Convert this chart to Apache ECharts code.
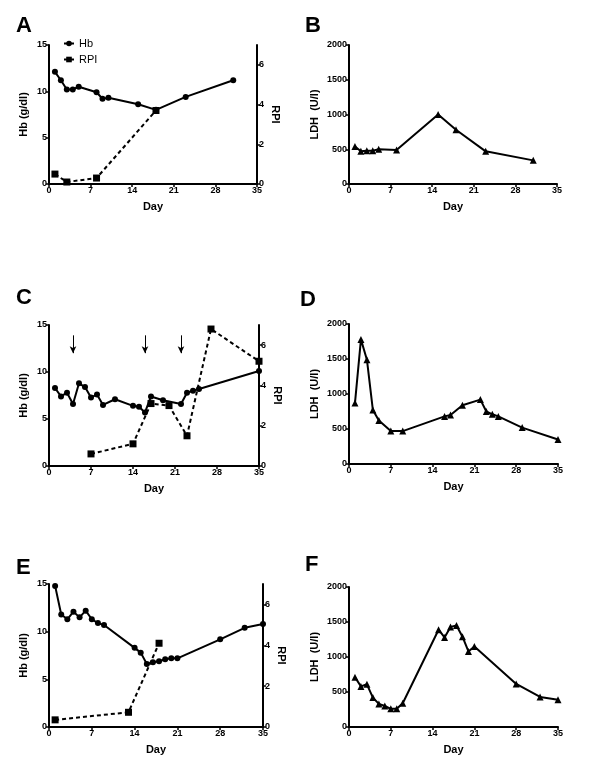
<!DOCTYPE html>
<html>
<head>
<meta charset="utf-8">
<script src="https://cdn.jsdelivr.net/npm/echarts@6/dist/echarts.min.js"></script>
<style>
html,body{margin:0;padding:0;background:#fff;}
#c{width:600px;height:774px;}
</style>
</head>
<body>
<div id="c"></div>
<script>
// ---------- data ----------
const dayTicks = [0, 7, 14, 21, 28, 35];
const hbTicks = [0, 5, 10, 15];
const rpiTicks = [0, 2, 4, 6];
const ldhTicks = [0, 500, 1000, 1500, 2000];

// Panel A
const daysA_Hb = [1, 2, 3, 4, 5, 8, 9, 10, 15, 18, 23, 31];
const hbA = [12.1, 11.2, 10.2, 10.2, 10.5, 9.9, 9.2, 9.3, 8.6, 8.0, 9.4, 11.2];
const daysA_RPI = [1, 3, 8, 18];
const rpiA = [0.5, 0.1, 0.3, 3.7];
// Panel B
const daysB = [1, 2, 3, 4, 5, 8, 15, 18, 23, 31];
const ldhB = [540, 470, 480, 480, 500, 490, 1000, 780, 470, 340];
// Panel C
const daysC_Hb = [1, 2, 3, 4, 5, 6, 7, 8, 9, 11, 14, 15, 16, 17, 19, 22, 23, 24, 25, 35];
const hbC = [8.3, 7.4, 7.8, 6.6, 8.8, 8.4, 7.3, 7.6, 6.5, 7.1, 6.4, 6.3, 5.7, 7.4, 7.0, 6.6, 7.8, 8.0, 8.2, 10.1];
const daysC_RPI = [7, 14, 17, 20, 23, 27, 35];
const rpiC = [0.6, 1.1, 3.1, 3.0, 1.5, 6.8, 5.2];
const arrowDaysC = [4, 16, 22];
const arrowSpanC = [13.9, 12.0];
// Panel D
const daysD = [1, 2, 3, 4, 5, 7, 9, 16, 17, 19, 22, 23, 24, 25, 29, 35];
const ldhD = [870, 1780, 1490, 770, 620, 470, 470, 680, 700, 840, 920, 750, 710, 680, 520, 350];
// Panel E
const daysE_Hb = [1, 2, 3, 4, 5, 6, 7, 8, 9, 14, 15, 16, 17, 18, 19, 20, 21, 28, 32, 35];
const hbE = [14.8, 11.8, 11.3, 12.1, 11.5, 12.2, 11.3, 10.9, 10.7, 8.3, 7.8, 6.6, 6.8, 6.9, 7.1, 7.2, 7.2, 9.2, 10.4, 10.8];
const daysE_RPI = [1, 13, 18];
const rpiE = [0.35, 0.72, 4.1];
// Panel F
const daysF = [1, 2, 3, 4, 5, 6, 7, 8, 9, 15, 16, 17, 18, 19, 20, 21, 28, 32, 35];
const ldhF = [710, 580, 610, 420, 330, 300, 260, 260, 340, 1390, 1280, 1430, 1450, 1290, 1080, 1150, 615, 430, 390];

// ---------- styles ----------
const FONT = 'Liberation Sans, Arial, Helvetica, sans-serif';
const pairs = (xs, ys) => xs.map((x, i) => [x, ys[i]]);

const grids = [
  {left: 49, top: 45, width: 208, height: 139},   // A
  {left: 349, top: 45, width: 208, height: 139},  // B
  {left: 49, top: 325, width: 210, height: 141},  // C
  {left: 349, top: 324, width: 209, height: 140}, // D
  {left: 49, top: 584, width: 214, height: 143},  // E
  {left: 349, top: 587, width: 209, height: 140}  // F
];

const axisLine = {show: true, onZero: false, lineStyle: {color: '#000', width: 2}};
const axisTick = (vals) => ({show: true, length: 3, lineStyle: {color: '#000', width: 1.5}, customValues: vals});
const axisLabel = (vals) => ({show: true, color: '#000', fontSize: 9, fontWeight: 'bold', fontFamily: FONT, margin: 2,
  customValues: vals, formatter: (v) => String(v)});
const nameStyle = {color: '#000', fontSize: 11, fontWeight: 'bold', fontFamily: FONT};

const xAxes = grids.map((g, i) => ({
  type: 'value', gridIndex: i, min: 0, max: 35, interval: 7,
  name: 'Day', nameLocation: 'middle', nameGap: 17, nameTextStyle: nameStyle,
  axisLine, axisTick: axisTick(dayTicks), axisLabel: axisLabel(dayTicks), splitLine: {show: false}
}));

function hbAxis(gi) {
  return {type: 'value', gridIndex: gi, min: 0, max: 15, interval: 5, position: 'left',
    name: 'Hb (g/dl)', nameLocation: 'middle', nameGap: 20, nameTextStyle: nameStyle,
    axisLine, axisTick: axisTick(hbTicks), axisLabel: axisLabel(hbTicks), splitLine: {show: false}};
}
function rpiAxis(gi) {
  return {type: 'value', gridIndex: gi, min: 0, max: 7, position: 'right',
    name: 'RPI', nameLocation: 'middle', nameGap: 13, nameRotate: -90, nameTextStyle: nameStyle,
    axisLine, axisTick: axisTick(rpiTicks), axisLabel: axisLabel(rpiTicks), splitLine: {show: false}};
}
function ldhAxis(gi) {
  return {type: 'value', gridIndex: gi, min: 0, max: 2000, interval: 500, position: 'left',
    name: 'LDH  (U/l)', nameLocation: 'middle', nameGap: 29, nameTextStyle: nameStyle,
    axisLine, axisTick: axisTick(ldhTicks), axisLabel: axisLabel(ldhTicks), splitLine: {show: false}};
}

const yAxes = [
  hbAxis(0), rpiAxis(0),   // 0,1
  ldhAxis(1),              // 2
  hbAxis(2), rpiAxis(2),   // 3,4
  ldhAxis(3),              // 5
  hbAxis(4), rpiAxis(4),   // 6,7
  ldhAxis(5)               // 8
];

function hbSeries(xi, yi, data) {
  return {type: 'line', name: 'Hb', xAxisIndex: xi, yAxisIndex: yi, data,
    symbol: 'circle', symbolSize: 6, showSymbol: true,
    lineStyle: {color: '#000', width: 2}, itemStyle: {color: '#000'}, z: 3};
}
function rpiSeries(xi, yi, data) {
  return {type: 'line', name: 'RPI', xAxisIndex: xi, yAxisIndex: yi, data,
    symbol: 'rect', symbolSize: 7, showSymbol: true,
    lineStyle: {color: '#000', width: 2, type: [4, 3]}, itemStyle: {color: '#000'}, z: 2};
}
function ldhSeries(xi, yi, data) {
  return {type: 'line', name: 'LDH', xAxisIndex: xi, yAxisIndex: yi, data,
    symbol: 'triangle', symbolSize: 7, showSymbol: true,
    lineStyle: {color: '#000', width: 2}, itemStyle: {color: '#000'}, z: 3};
}

const series = [
  hbSeries(0, 0, pairs(daysA_Hb, hbA)),
  rpiSeries(0, 1, pairs(daysA_RPI, rpiA)),
  ldhSeries(1, 2, pairs(daysB, ldhB)),
  hbSeries(2, 3, pairs(daysC_Hb, hbC)),
  rpiSeries(2, 4, pairs(daysC_RPI, rpiC)),
  {type: 'line', name: 'arrows', xAxisIndex: 2, yAxisIndex: 3, data: [], silent: true,
    markLine: {silent: true, symbol: ['none', 'arrow'], symbolSize: [5, 7], label: {show: false},
      lineStyle: {color: '#000', width: 1, type: 'solid'},
      data: arrowDaysC.map(d => [{coord: [d, arrowSpanC[0]]}, {coord: [d, arrowSpanC[1]]}])}},
  ldhSeries(3, 5, pairs(daysD, ldhD)),
  hbSeries(4, 6, pairs(daysE_Hb, hbE)),
  rpiSeries(4, 7, pairs(daysE_RPI, rpiE)),
  ldhSeries(5, 8, pairs(daysF, ldhF))
];

const letterStyle = {color: '#000', fontSize: 22, fontWeight: 'bold', fontFamily: FONT};
const letters = [
  {text: 'A', left: 16, top: 15},
  {text: 'B', left: 305, top: 15},
  {text: 'C', left: 16, top: 287},
  {text: 'D', left: 300, top: 289},
  {text: 'E', left: 16, top: 557},
  {text: 'F', left: 305, top: 554}
].map(t => ({text: t.text, left: t.left, top: t.top, padding: 0, textStyle: letterStyle}));

const option = {
  animation: false,
  backgroundColor: '#fff',
  title: letters,
  legend: {
    data: ['Hb', 'RPI'], orient: 'vertical', left: 63, top: 38, padding: 0,
    itemWidth: 10, itemHeight: 7, itemGap: 5,
    textStyle: {color: '#000', fontSize: 11, fontFamily: FONT}
  },
  grid: grids,
  xAxis: xAxes,
  yAxis: yAxes,
  series
};

const chart = echarts.init(document.getElementById('c'), null, {renderer: 'canvas'});
chart.setOption(option);
</script>
</body>
</html>
